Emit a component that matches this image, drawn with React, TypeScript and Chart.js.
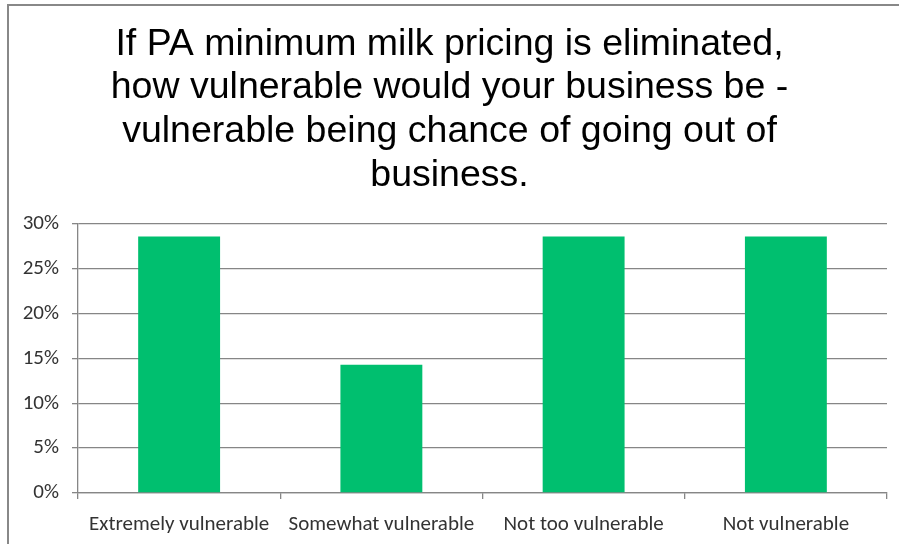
import React, { useEffect, useRef } from "react";
import { Chart, registerables } from "chart.js";

Chart.register(...registerables);

const categories = ["Extremely vulnerable", "Somewhat vulnerable", "Not too vulnerable", "Not vulnerable"];
const percentValues = [28.57, 14.29, 28.57, 28.57];
const titleLines = [
  "If PA minimum milk pricing is eliminated,",
  "how vulnerable would your business be -",
  "vulnerable being chance of going out of",
  "business.",
];
const yTicksMin = 0;
const yTicksMax = 30;
const yTickStep = 5;

export default function App() {
  const ref = useRef<HTMLCanvasElement | null>(null);

  useEffect(() => {
    if (!ref.current) return;
    const tickFont = { family: "Carlito, Lato, 'Open Sans', sans-serif", size: 21 };
    const chart = new Chart(ref.current, {
      type: "bar",
      data: {
        labels: categories,
        datasets: [
          {
            data: percentValues,
            backgroundColor: "#00BF6F",
            borderWidth: 0,
            barPercentage: 0.405,
            categoryPercentage: 1,
          },
        ],
      },
      options: {
        responsive: false,
        animation: false,
        devicePixelRatio: 1,
        layout: { padding: { left: 0, right: 0, top: 0, bottom: 0 } },
        plugins: {
          legend: { display: false },
          tooltip: { enabled: false },
          title: {
            display: true,
            text: titleLines,
            color: "#000000",
            font: { family: "'Liberation Sans', Arial, sans-serif", size: 37.5, weight: "normal", lineHeight: 1.165 },
            padding: { top: 22.5, bottom: 26.5 },
          },
        },
        scales: {
          x: {
            grid: {
              display: true,
              offset: true,
              drawOnChartArea: false,
              drawTicks: true,
              tickLength: 6,
              color: "#868686",
              lineWidth: 1.3,
            },
            border: { display: true, color: "#868686", width: 1.3 },
            ticks: { color: "#333333", font: tickFont, padding: 13, maxRotation: 0, autoSkip: false },
            afterFit: (scale: any) => {
              scale.height = 51;
            },
          },
          y: {
            min: yTicksMin,
            max: yTicksMax,
            grid: {
              color: "#868686",
              lineWidth: 1.3,
              drawTicks: true,
              tickLength: 6,
            },
            border: { display: true, color: "#868686", width: 1.3 },
            ticks: {
              stepSize: yTickStep,
              color: "#333333",
              font: tickFont,
              padding: 13,
              callback: (v: any) => `${v}%`,
            },
            afterFit: (scale: any) => {
              scale.width = 78;
            },
          },
          yRight: {
            type: "linear",
            position: "right",
            display: true,
            grid: { display: false, drawTicks: false },
            border: { display: false },
            ticks: { display: false },
            afterFit: (scale: any) => {
              scale.width = 12;
            },
          },
        },
      },
    });
    return () => chart.destroy();
  }, []);

  return (
    <div style={{ position: "fixed", left: 0, top: 0, width: 899, height: 544, background: "#fff", overflow: "hidden" }}>
      <div
        style={{
          position: "absolute",
          left: 7,
          top: 4,
          width: 1000,
          height: 700,
          borderTop: "2px solid #888888",
          borderLeft: "2px solid #888888",
        }}
      />
      <canvas ref={ref} width={899} height={544} style={{ position: "absolute", left: 0, top: 0, width: 899, height: 544 }} />
    </div>
  );
}
